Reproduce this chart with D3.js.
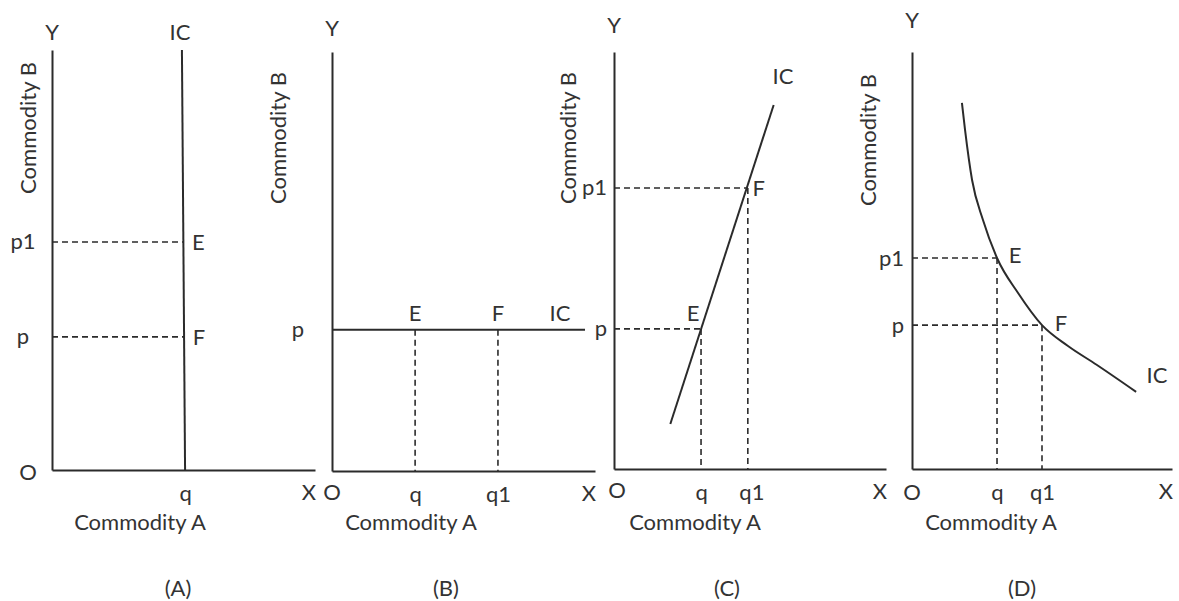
<!DOCTYPE html>
<html>
<head>
<meta charset="utf-8">
<script src="https://cdn.jsdelivr.net/npm/d3@7"></script>
<style>
  body { margin: 0; background: #fff; }
  text { font-family: Lato, "Open Sans", sans-serif; fill: #333; }
</style>
</head>
<body>
<script>
// ---- data (each axis runs 0..10 in its own panel) ----
const panelNames = ["(A)", "(B)", "(C)", "(D)"];
const xTitle = "Commodity A";
const yTitle = "Commodity B";

// indifference curves
const icA = [[4.94, 10], [5.06, 0]];
const icB = [[0, 3.37], [9.62, 3.37]];
const icC = [[2.07, 1.08], [5.87, 8.73]];
const icD = [[1.92, 8.78], [2.04, 8.13], [2.31, 6.93], [2.73, 5.97], [3.27, 5.06],
             [4.08, 4.22], [5.0, 3.45], [6.0, 2.95], [7.1, 2.5], [8.62, 1.85]];

// combinations E and F on each curve
const ptsA = [["E", 4.99, 5.43], ["F", 5.02, 3.17]];
const ptsB = [["E", 3.16, 3.37], ["F", 6.31, 3.37]];
const ptsC = [["E", 3.2, 3.36], ["F", 4.92, 6.74]];
const ptsD = [["E", 3.27, 5.06], ["F", 5.0, 3.45]];

// tick labels
const yTicksA = [["p1", 5.43], ["p", 3.17]];
const xTicksA = [["q", 5.06]];
const yTicksB = [["p", 3.37]];
const xTicksB = [["q", 3.16], ["q1", 6.31]];
const yTicksC = [["p1", 6.74], ["p", 3.36]];
const xTicksC = [["q", 3.2], ["q1", 5.05]];
const yTicksD = [["p1", 5.06], ["p", 3.45]];
const xTicksD = [["q", 3.27], ["q1", 5.0]];

// ---- layout ----
const panels = [
  { ic: icA, pts: ptsA, yt: yTicksA, xt: xTicksA, guides: "h", curve: d3.curveLinear,
    x0: 52, x1: 315, y0: 470, y1: 50, yLab: 32, icLab: [180, 32], oLab: [28, 472],
    ptOff: [[15, 0], [15, 0]], yTickAnchor: "middle", yTickX: 23,
    cb: [28, 128], ca: 140, cap: 178 },
  { ic: icB, pts: ptsB, yt: yTicksB, xt: xTicksB, guides: "v", curve: d3.curveLinear,
    x0: 332, x1: 595, y0: 471, y1: 52, yLab: 28, icLab: [560, 313], oLab: [332, 492],
    ptOff: [[0, -17], [0, -17]], yTickAnchor: "end", yTickX: 304,
    cb: [278, 138], ca: 411, cap: 446 },
  { ic: icC, pts: ptsC, yt: yTicksC, xt: xTicksC, guides: "hv", curve: d3.curveLinear,
    x0: 614, x1: 886, y0: 469, y1: 52, yLab: 25, icLab: [783, 76], oLab: [617, 490],
    ptOff: [[-8, -16], [11, 0]], yTickAnchor: "end", yTickX: 607,
    cb: [568, 138], ca: 695, cap: 727 },
  { ic: icD, pts: ptsD, yt: yTicksD, xt: xTicksD, guides: "hv", curve: d3.curveMonotoneX,
    x0: 912, x1: 1172, y0: 469, y1: 52, yLab: 20, icLab: [1157, 375], oLab: [912, 492],
    ptOff: [[18, -3], [19, -2]], yTickAnchor: "end", yTickX: 904,
    cb: [868, 140], ca: 991, cap: 1022 },
];

const INK = "#2b2b2b";
const FS = 22;

const svg = d3.select("body").append("svg")
  .attr("width", 1179)
  .attr("height", 601);

panels.forEach((p, i) => {
  const x = d3.scaleLinear().domain([0, 10]).range([p.x0, p.x1]);
  const y = d3.scaleLinear().domain([0, 10]).range([p.y0, p.y1]);
  const g = svg.append("g");

  // axes: just the lines plus the q / p labels
  const xAxis = d3.axisBottom(x)
    .tickValues(p.xt.map((d) => d[1]))
    .tickFormat((v) => p.xt.find((d) => d[1] === v)[0])
    .tickSize(0).tickPadding(15);
  g.append("g").attr("transform", `translate(0,${p.y0})`).call(xAxis);

  const yAxis = d3.axisLeft(y)
    .tickValues(p.yt.map((d) => d[1]))
    .tickFormat((v) => p.yt.find((d) => d[1] === v)[0])
    .tickSize(0);
  const ya = g.append("g").attr("transform", `translate(${p.x0},0)`).call(yAxis);
  ya.selectAll("text").attr("x", p.yTickX - p.x0).attr("text-anchor", p.yTickAnchor);

  g.selectAll(".domain").attr("stroke", INK).attr("stroke-width", 2);
  g.selectAll(".tick text")
    .attr("font-size", FS).attr("font-family", null).attr("fill", "#333");

  // dashed guides
  p.pts.forEach((d) => {
    if (p.guides.includes("h")) {
      g.append("line")
        .attr("x1", x(0)).attr("x2", x(d[1]))
        .attr("y1", y(d[2])).attr("y2", y(d[2]))
        .attr("stroke", INK).attr("stroke-width", 1.6).attr("stroke-dasharray", "6,4");
    }
    if (p.guides.includes("v")) {
      g.append("line")
        .attr("x1", x(d[1])).attr("x2", x(d[1]))
        .attr("y1", y(d[2])).attr("y2", y(0))
        .attr("stroke", INK).attr("stroke-width", 1.6).attr("stroke-dasharray", "6,4");
    }
  });

  // indifference curve
  const line = d3.line().x((d) => x(d[0])).y((d) => y(d[1])).curve(p.curve);
  g.append("path")
    .datum(p.ic)
    .attr("d", line)
    .attr("fill", "none")
    .attr("stroke", INK)
    .attr("stroke-width", 2);

  // E / F labels
  g.selectAll(".pt").data(p.pts).join("text")
    .attr("class", "pt")
    .attr("x", (d, j) => x(d[1]) + p.ptOff[j][0])
    .attr("y", (d, j) => y(d[2]) + p.ptOff[j][1])
    .attr("dy", "0.36em")
    .attr("text-anchor", "middle")
    .attr("font-size", FS)
    .text((d) => d[0]);

  const label = (tx, ty, s, anchor = "middle") =>
    g.append("text").attr("x", tx).attr("y", ty).attr("dy", "0.36em")
      .attr("text-anchor", anchor).attr("font-size", FS).text(s);

  label(p.icLab[0], p.icLab[1], "IC");
  label(p.x0, p.yLab, "Y");
  label(p.x1 - 6, p.y0 + 22, "X");
  label(p.oLab[0], p.oLab[1], "O");
  label(p.ca, 522, xTitle);
  label(p.cap, 588, panelNames[i]);

  g.append("text")
    .attr("transform", `translate(${p.cb[0]},${p.cb[1]}) rotate(-90)`)
    .attr("dy", "0.36em")
    .attr("text-anchor", "middle")
    .attr("font-size", FS)
    .text(yTitle);
});
</script>
</body>
</html>
